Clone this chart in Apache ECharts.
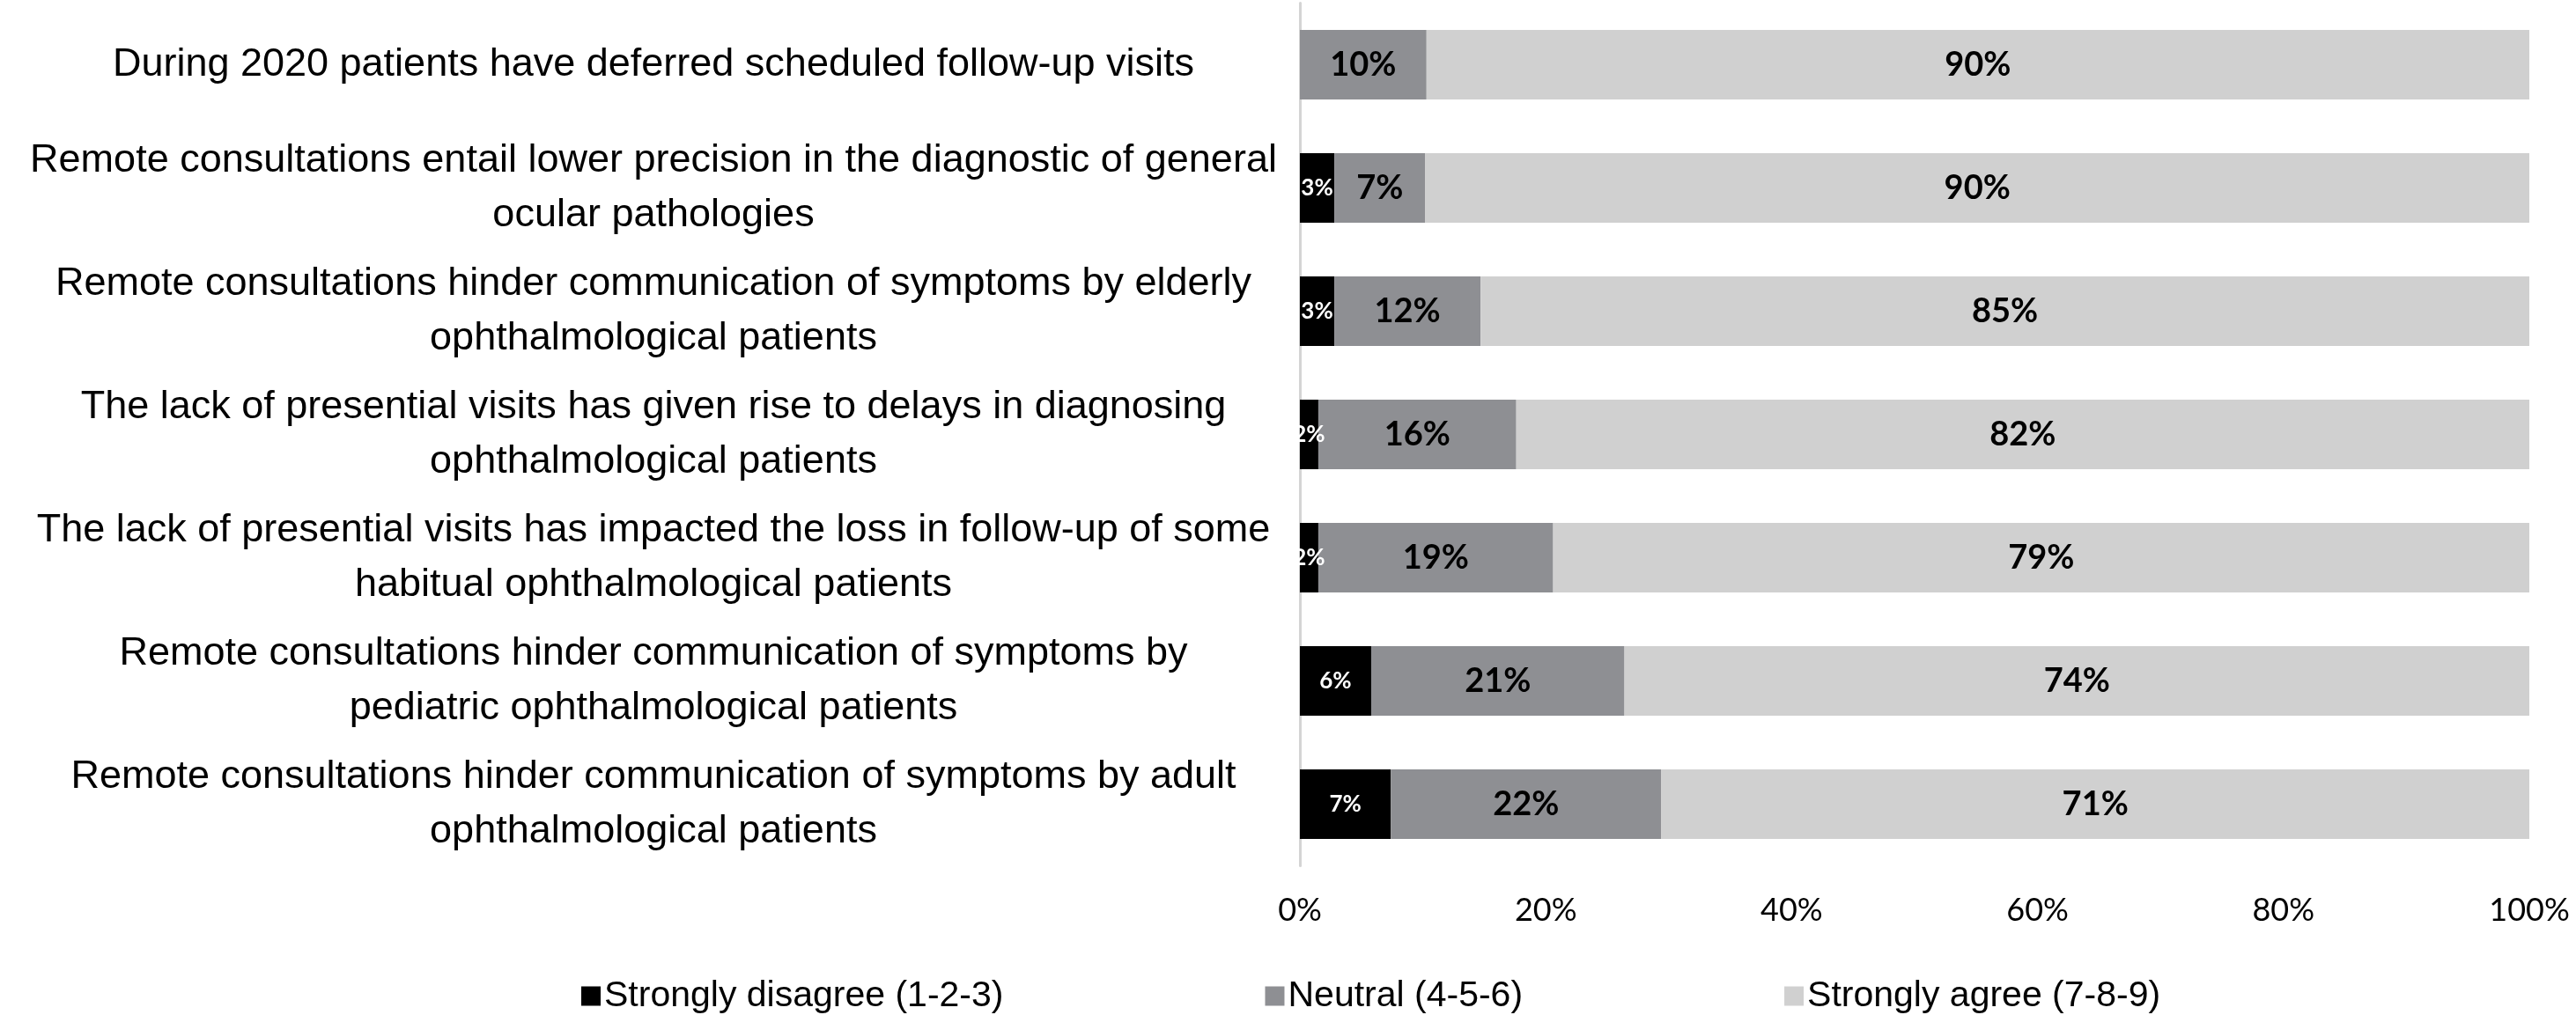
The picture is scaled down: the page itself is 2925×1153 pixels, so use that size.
<!DOCTYPE html>
<html>
<head>
<meta charset="utf-8">
<script src="https://cdn.jsdelivr.net/npm/echarts@6/dist/echarts.min.js"></script>
<style>
html,body{margin:0;padding:0;background:#fff;}
#chart{width:2925px;height:1153px;}
</style>
</head>
<body>
<div id="chart"></div>
<script>
var categories = [
  "During 2020 patients have deferred scheduled follow-up visits",
  "Remote consultations entail lower precision in the diagnostic of general\nocular pathologies",
  "Remote consultations hinder communication of symptoms by elderly\nophthalmological patients",
  "The lack of presential visits has given rise to delays in diagnosing\nophthalmological patients",
  "The lack of presential visits has impacted the loss in follow-up of some\nhabitual ophthalmological patients",
  "Remote consultations hinder communication of symptoms by\npediatric ophthalmological patients",
  "Remote consultations hinder communication of symptoms by adult\nophthalmological patients"
];
var seriesNames = ["Strongly disagree (1-2-3)", "Neutral (4-5-6)", "Strongly agree (7-8-9)"];
var disagree = [0, 2.8, 2.8, 1.5, 1.5, 5.8, 7.4];
var neutral = [10.3, 7.4, 11.9, 16.1, 19.1, 20.6, 22.0];
var agree = [89.7, 89.8, 85.3, 82.4, 79.4, 73.6, 70.6];
var xTicks = [0, 20, 40, 60, 80, 100];

var chart = echarts.init(document.getElementById('chart'), null, {renderer: 'canvas'});
function fmt(p) { return p.value > 0 ? Math.round(p.value) + '%' : ''; }
var option = {
  animation: false,
  backgroundColor: '#ffffff',
  grid: {left: 1476, right: 53, top: 3.5, bottom: 169.5, containLabel: false},
  legend: {
    left: 655, top: 1106,
    itemWidth: 22, itemHeight: 22, itemGap: 297,
    icon: 'rect',
    textStyle: {fontFamily: 'Arial, "Liberation Sans", sans-serif', fontSize: 41, color: '#000', padding: [0, 0, 0, -1]},
    data: seriesNames
  },
  xAxis: {
    type: 'value', min: 0, max: 100, interval: 20,
    axisLine: {show: false}, axisTick: {show: false}, splitLine: {show: false},
    axisLabel: {
      margin: 33, fontFamily: 'Lato, sans-serif', fontSize: 36, color: '#000',
      formatter: function (v) { return xTicks.indexOf(v) >= 0 ? v + '%' : ''; }
    }
  },
  yAxis: {
    type: 'category', inverse: true, data: categories,
    axisLine: {show: true, lineStyle: {color: '#d4d4d4', width: 3}},
    axisTick: {show: false},
    axisLabel: {
      margin: 734, align: 'center', fontFamily: 'Arial, "Liberation Sans", sans-serif',
      fontSize: 45, lineHeight: 62, color: '#000'
    }
  },
  series: [
    {
      name: seriesNames[0], type: 'bar', stack: 'total', data: disagree, barWidth: 79,
      itemStyle: {color: '#000000'},
      label: {show: true, position: 'inside', formatter: fmt, color: '#fff', fontWeight: 'bold', fontFamily: 'Lato, sans-serif', fontSize: 26}
    },
    {
      name: seriesNames[1], type: 'bar', stack: 'total', data: neutral, barWidth: 79,
      itemStyle: {color: '#8e8f93'},
      label: {show: true, position: 'inside', formatter: fmt, color: '#000', fontWeight: 'bold', fontFamily: 'Lato, sans-serif', fontSize: 38}
    },
    {
      name: seriesNames[2], type: 'bar', stack: 'total', data: agree, barWidth: 79,
      itemStyle: {color: '#d0d0d0'},
      label: {show: true, position: 'inside', formatter: fmt, color: '#000', fontWeight: 'bold', fontFamily: 'Lato, sans-serif', fontSize: 38}
    }
  ]
};
chart.setOption(option);
</script>
</body>
</html>
